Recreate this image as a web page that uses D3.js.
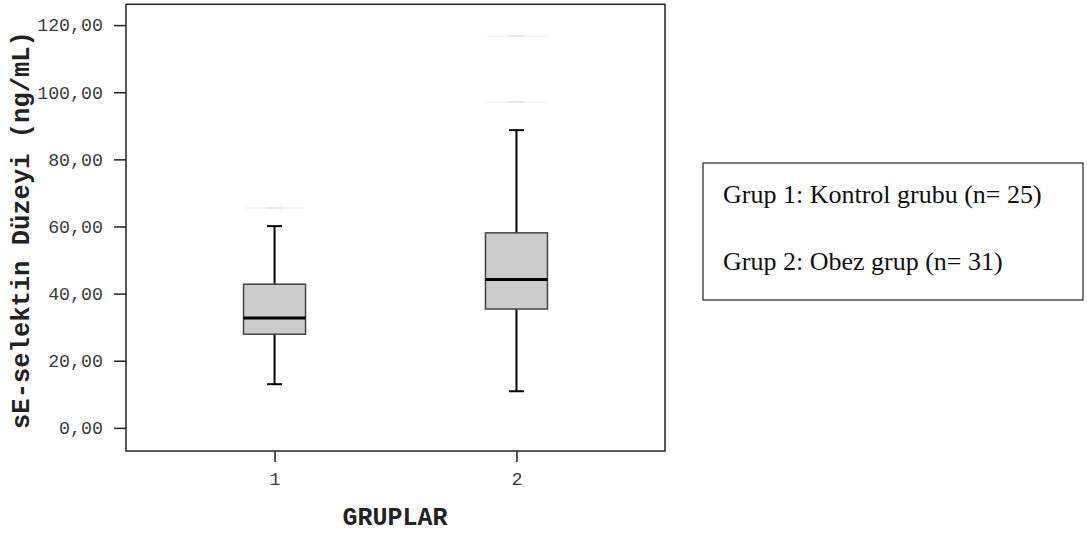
<!DOCTYPE html>
<html><head><meta charset="utf-8">
<script src="https://cdn.jsdelivr.net/npm/d3@7"></script>
<style>body{margin:0;background:#fff}</style>
</head><body>
<svg id="c" width="1087" height="536"></svg>
<script>
const categories = ["1", "2"];
const whiskerLow = [13.0, 10.9];
const q1 = [27.9, 35.4];
const median = [32.7, 44.2];
const q3 = [42.8, 58.1];
const whiskerHigh = [60.1, 88.7];
const outliers = [[65.5], [97.1, 116.7]];
const yTicks = [0, 20, 40, 60, 80, 100, 120];
const legendLines = ["Grup 1: Kontrol grubu (n= 25)", "Grup 2: Obez grup (n= 31)"];

const svg = d3.select("#c");
const L = 126, R = 665, T = 4.3, B = 451;
const x = d3.scalePoint().domain(categories).range([L, R]).padding(0.614);
const y = d3.scaleLinear().domain([-6.9, 126.2]).range([B, T]);
const mono = "'Liberation Mono','Courier New',monospace";

// frame
svg.append("rect").attr("x", L).attr("y", T).attr("width", R - L).attr("height", B - T)
  .attr("fill", "none").attr("stroke", "#222").attr("stroke-width", 1.5);

// y axis
const ya = svg.append("g").attr("transform", `translate(${L},0)`)
  .call(d3.axisLeft(y).tickValues(yTicks).tickSize(12).tickPadding(11)
    .tickFormat(d => d3.format(".2f")(d).replace(".", ",")));
ya.select(".domain").remove();
ya.selectAll("line").attr("stroke", "#222").attr("stroke-width", 1.5);
ya.selectAll("text").attr("font-family", mono).attr("font-size", 18.3).attr("fill", "#3a3a3a");

// x axis
const xa = svg.append("g").attr("transform", `translate(0,${B})`)
  .call(d3.axisBottom(x).tickSize(11).tickPadding(10));
xa.select(".domain").remove();
xa.selectAll("line").attr("stroke", "#222").attr("stroke-width", 1.5);
xa.selectAll("text").attr("font-family", mono).attr("font-size", 18.3).attr("fill", "#3a3a3a");

// axis titles
svg.append("text").attr("transform", `translate(29,230) rotate(-90)`)
  .attr("text-anchor", "middle").attr("font-family", mono).attr("font-weight", "bold")
  .attr("font-size", 25.5).attr("fill", "#222").text("sE-selektin Düzeyi (ng/mL)");
svg.append("text").attr("x", 395).attr("y", 525)
  .attr("text-anchor", "middle").attr("font-family", mono).attr("font-weight", "bold")
  .attr("font-size", 25).attr("fill", "#222").text("GRUPLAR");

// boxes
const bw = 62, cap = 15;
categories.forEach((c, i) => {
  const cx = x(c);
  const g = svg.append("g");
  g.append("line").attr("x1", cx).attr("x2", cx).attr("y1", y(whiskerHigh[i])).attr("y2", y(q3[i]))
    .attr("stroke", "#000").attr("stroke-width", 2);
  g.append("line").attr("x1", cx).attr("x2", cx).attr("y1", y(q1[i])).attr("y2", y(whiskerLow[i]))
    .attr("stroke", "#000").attr("stroke-width", 2);
  [whiskerHigh[i], whiskerLow[i]].forEach(v => g.append("line")
    .attr("x1", cx - cap / 2).attr("x2", cx + cap / 2).attr("y1", y(v)).attr("y2", y(v))
    .attr("stroke", "#000").attr("stroke-width", 2));
  g.append("rect").attr("x", cx - bw / 2).attr("y", y(q3[i])).attr("width", bw)
    .attr("height", y(q1[i]) - y(q3[i])).attr("fill", "#cccccc").attr("stroke", "#444").attr("stroke-width", 1.5);
  g.append("line").attr("x1", cx - bw / 2).attr("x2", cx + bw / 2).attr("y1", y(median[i])).attr("y2", y(median[i]))
    .attr("stroke", "#000").attr("stroke-width", 3);
  outliers[i].forEach(v => {
    g.append("line").attr("x1", cx - 30).attr("x2", cx + 30).attr("y1", y(v)).attr("y2", y(v))
      .attr("stroke", "#f2f2ee").attr("stroke-width", 1.5);
    g.append("line").attr("x1", cx - 8).attr("x2", cx + 8).attr("y1", y(v)).attr("y2", y(v))
      .attr("stroke", "#e8e6da").attr("stroke-width", 1.5);
  });
});

// legend
svg.append("rect").attr("x", 703).attr("y", 163).attr("width", 380).attr("height", 137)
  .attr("fill", "#fff").attr("stroke", "#222").attr("stroke-width", 1.2);
legendLines.forEach((t, i) => svg.append("text").attr("x", 723).attr("y", 203 + i * 67)
  .attr("font-family", "'Liberation Serif','Times New Roman',serif").attr("font-size", 26)
  .attr("fill", "#111").text(t));
</script>
</body></html>
